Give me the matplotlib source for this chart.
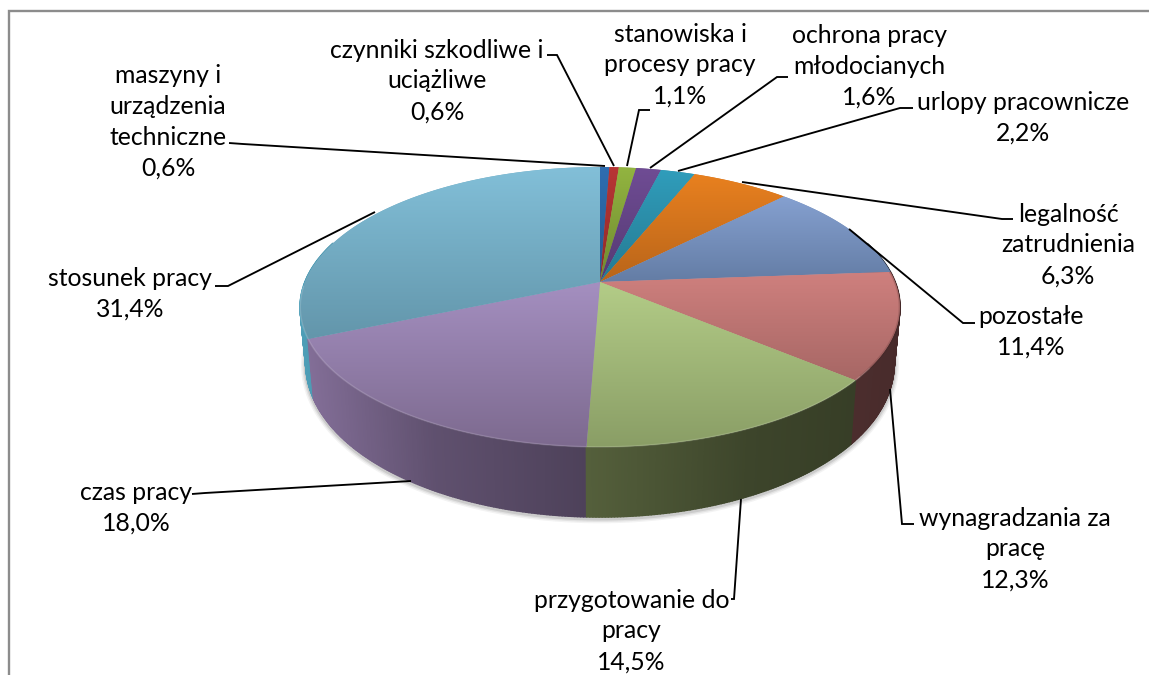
import numpy as np
import matplotlib
matplotlib.use("Agg")
import matplotlib.pyplot as plt
from matplotlib.patches import Polygon
from matplotlib.collections import PolyCollection
from matplotlib.colors import to_rgb

plt.rcParams['font.family'] = ['Lato', 'DejaVu Sans']

# ---- data ----
names = ["maszyny i\nurządzenia\ntechniczne", "czynniki szkodliwe i\nuciążliwe",
         "stanowiska i\nprocesy pracy", "ochrona pracy\nmłodocianych",
         "urlopy pracownicze", "legalność\nzatrudnienia", "pozostałe",
         "wynagradzania za\npracę", "przygotowanie do\npracy", "czas pracy",
         "stosunek pracy"]
values = [0.6, 0.6, 1.1, 1.6, 2.2, 6.3, 11.4, 12.3, 14.5, 18.0, 31.4]

# ---- style ----
top_light = ["#2f6db0", "#b83535", "#92b440", "#6f4c94", "#309dbb", "#e8801f",
             "#85a0d0", "#cf807e", "#b3cc87", "#a48fc0", "#82bfd8"]
top_dark = ["#245a90", "#8f2a2a", "#6f8a30", "#553a72", "#257a92", "#b9651a",
            "#647da5", "#a76765", "#8a9e66", "#7d6a8f", "#6396ab"]
side_base = ["#2f6db0", "#b83535", "#92b440", "#6f4c94", "#309dbb", "#e07a25",
             "#7d95bb", "#c87878", "#91a466", "#85709a", "#4f9fb8"]
label_xy = [(168, 122), (437, 81), (680, 65), (869, 66), (1023, 118), (1068, 245),
            (1031, 332), (1015, 549), (631.5, 631), (136, 508), (130, 294)]
leaders = [[(229, 143), (243, 144), (605, 166)],
           [(547, 55), (557, 55), (614, 166)],
           [(650, 110), (639, 110), (627, 166)],
           [(788, 77), (777, 77), (650, 168)],
           [(913, 108), (900, 108), (678, 171)],
           [(1013, 219), (1002, 219), (742, 182)],
           [(975, 323), (963, 323), (849, 229)],
           [(914, 524), (902, 524), (890, 389)],
           [(731, 599), (734, 599), (741, 499)],
           [(192, 494), (205, 493), (411, 481)],
           [(215, 286), (228, 286), (375, 212)]]

# ---- projection of the tilted disc onto pixel coordinates ----
CX, CY, A, B, K = 600.0, 282.0, 295.0, 135.5, 0.1786


def top_xy(t):
    X, Y = np.sin(t), np.cos(t)
    d = 1 + K * Y
    return CX + A * X / d, CY - B * Y / d


def bottom_xy(t):
    x, y = top_xy(t)
    return CX + (x - CX) * 0.981, y + 53.6 - 16.4 * np.cos(t)


def shade(x):
    return np.interp(x, [300, 433, 590, 750, 900], [1.0, 0.72, 0.58, 0.42, 0.36])


fig = plt.figure(figsize=(11.49, 6.75), dpi=100)
ax = fig.add_axes([0, 0, 1, 1])
ax.set_xlim(0, 1149)
ax.set_ylim(675, 0)
ax.axis('off')

# chart frame (right and bottom cut off)
ax.plot([8.5, 8.5, 1149], [675, 10.5, 10.5], color="#8c8c8c", lw=1.7, zorder=1,
        solid_joinstyle='miter')

edges = np.radians(np.concatenate([[0], np.cumsum(values)]) / sum(values) * 360)

# soft shadow under the pie
ts = np.linspace(np.radians(95), np.radians(272), 300)
bx, by = bottom_xy(ts)
for lw, al in [(7, 0.07), (5, 0.10), (3, 0.16)]:
    ax.plot(bx, by + 1.5, color="#555555", lw=lw, alpha=al, zorder=2,
            solid_capstyle='round')

# side wall
strips = []
for i in range(len(values)):
    n = max(2, int(np.degrees(edges[i + 1] - edges[i]) * 2))
    tt = np.linspace(edges[i], edges[i + 1], n + 1)
    base = np.array(to_rgb(side_base[i]))
    for a, b in zip(tt[:-1], tt[1:]):
        m = (a + b) / 2
        if np.cos(m) > 0.3:
            continue
        x1, y1 = top_xy(np.array([a, b]))
        x2, y2 = bottom_xy(np.array([b, a]))
        xm = float(top_xy(m)[0])
        strips.append((np.cos(m), np.column_stack([np.r_[x1, x2], np.r_[y1, y2]]),
                       tuple(base * shade(xm))))
strips.sort(key=lambda s: -s[0])
ax.add_collection(PolyCollection([s[1] for s in strips],
                                 facecolors=[s[2] for s in strips],
                                 edgecolors=[s[2] for s in strips],
                                 linewidths=1.2, zorder=3))

# top face, one polygon per slice with a vertical gradient
for i in range(len(values)):
    n = max(4, int(np.degrees(edges[i + 1] - edges[i]) * 2))
    tt = np.linspace(edges[i], edges[i + 1], n + 1)
    x, y = top_xy(tt)
    px = np.r_[CX, x]
    py = np.r_[CY, y]
    c1, c2 = np.array(to_rgb(top_light[i])), np.array(to_rgb(top_dark[i]))
    poly = Polygon(np.column_stack([px, py]), closed=True, facecolor=(c1 + c2) / 2,
                   edgecolor='none', zorder=4)
    ax.add_patch(poly)
    w = np.linspace(0, 1, 64)[:, None, None]
    grad = c1[None, None, :] * (1 - w) + c2[None, None, :] * w
    im = ax.imshow(grad, extent=(px.min(), px.max(), py.max(), py.min()),
                   aspect='auto', zorder=4.1, interpolation='bilinear')
    im.set_clip_path(poly)
ax.set_xlim(0, 1149)
ax.set_ylim(675, 0)

# pale rim along the front edge of the top face, darker on the right
ts = np.linspace(np.radians(125), np.radians(268), 300)
rx, ry = top_xy(ts)
ax.plot(rx, ry, color="white", lw=1.2, alpha=0.14, zorder=4.5)
ts = np.linspace(np.radians(86), np.radians(128), 100)
rx, ry = top_xy(ts)
ax.plot(rx, ry, color="#3a2020", lw=1.8, alpha=0.18, zorder=4.5)

# leader lines
for pts in leaders:
    p = np.array(pts)
    ax.plot(p[:, 0], p[:, 1], color="black", lw=1.35, zorder=5,
            solid_joinstyle='miter', solid_capstyle='butt')

# labels
for name, val, (lx, ly) in zip(names, values, label_xy):
    txt = name + "\n" + f"{val:.1f}".replace('.', ',') + "%"
    ax.text(lx, ly, txt, ha='center', va='center', fontsize=17.8, color="black",
            linespacing=1.42, zorder=6)

fig.savefig("out.png", dpi=100)
